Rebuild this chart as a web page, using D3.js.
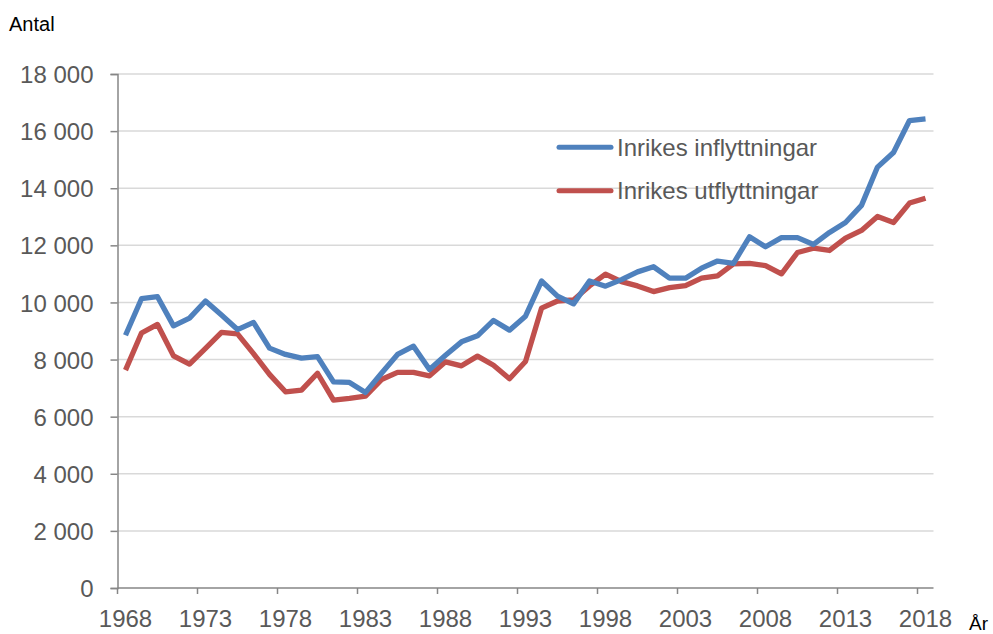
<!DOCTYPE html>
<html>
<head>
<meta charset="utf-8">
<script src="https://cdn.jsdelivr.net/npm/d3@7"></script>
<style>
  body { margin: 0; background: #fff; }
  svg { display: block; font-family: "Liberation Sans", Arial, sans-serif; }
</style>
</head>
<body>
<script>
// categories
const years = d3.range(1968, 2019)
const xTickYears = [1968, 1973, 1978, 1983, 1988, 1993, 1998, 2003, 2008, 2013, 2018]
const yTicks = [0, 2000, 4000, 6000, 8000, 10000, 12000, 14000, 16000, 18000]

// series values
const inflyttningar = [
    8850, 10130, 10200, 9180, 9450, 10050, 9560, 9050, 9300, 8400,
    8180, 8050, 8100, 7220, 7200, 6850, 7520, 8180, 8470, 7650,
    8150, 8620, 8830, 9370, 9030, 9520, 10750, 10220, 9950, 10750,
    10570, 10800, 11070, 11250, 10850, 10850, 11200, 11450, 11370, 12300,
    11950, 12270, 12270, 12030, 12450, 12800, 13400, 14740, 15250, 16370,
    16430
]
const utflyttningar = [
    7630, 8930, 9230, 8130, 7840, 8390, 8950, 8900, 8210, 7480,
    6870, 6930, 7520, 6580, 6640, 6720, 7300, 7550, 7550, 7430,
    7920, 7780, 8120, 7800, 7330, 7930, 9800, 10050, 10090, 10580,
    10990, 10730, 10580, 10380, 10520, 10590, 10850, 10930, 11350, 11370,
    11290, 11000, 11750, 11900, 11820, 12250, 12520, 13010, 12800, 13480,
    13650
]
const seriesNames = ["Inrikes inflyttningar", "Inrikes utflyttningar"]

const COLORS = {
    BLUE: "#4F81BD",
    RED: "#C0504D",
    GRID: "#D9D9D9",
    AXIS: "#868686",
    TICK_TEXT: "#595959",
    TITLE: "#000"
}

const width = 993, height = 634

const x = d3.scaleBand()
    .domain(years)
    .range([117.5, 933.5])
    .padding(0)
const y = d3.scaleLinear()
    .domain([0, 18000])
    .range([588, 74])

// swedish style thousands: "18 000"
const fmt = v => d3.format(",")(v).replace(/,/g, " ")

const svg = d3.select("body").append("svg")
    .attr("width", width)
    .attr("height", height)

// gridlines
svg.append("g")
    .selectAll("line")
    .data(yTicks.filter(d => d > 0))
    .join("line")
    .attr("x1", x.range()[0])
    .attr("x2", x.range()[1])
    .attr("y1", d => y(d))
    .attr("y2", d => y(d))
    .attr("stroke", COLORS.GRID)
    .attr("stroke-width", 1.5)

// y axis
const yAxis = svg.append("g")
    .attr("transform", `translate(${x.range()[0]},0)`)
    .call(d3.axisLeft(y).tickValues(yTicks).tickSize(7).tickPadding(17).tickFormat(fmt))
yAxis.select(".domain").attr("stroke", COLORS.AXIS).attr("stroke-width", 1.5)
yAxis.selectAll(".tick line").attr("stroke", COLORS.AXIS).attr("stroke-width", 1.5)
yAxis.selectAll(".tick text")
    .attr("fill", COLORS.TICK_TEXT)
    .style("font-size", "24px")
    .style("white-space", "pre")
    .attr("dy", "0.36em")

// x axis: ticks at band edges, labels at band centres
const xAxisG = svg.append("g").attr("transform", `translate(0,${y(0)})`)
xAxisG.append("line")
    .attr("x1", x.range()[0])
    .attr("x2", x.range()[1])
    .attr("stroke", COLORS.AXIS)
    .attr("stroke-width", 1.5)
xAxisG.selectAll("line.tick")
    .data(xTickYears)
    .join("line")
    .attr("class", "tick")
    .attr("x1", d => x(d))
    .attr("x2", d => x(d))
    .attr("y1", 0)
    .attr("y2", 6)
    .attr("stroke", COLORS.AXIS)
    .attr("stroke-width", 1.5)
xAxisG.selectAll("text")
    .data(xTickYears)
    .join("text")
    .attr("x", d => x(d) + x.bandwidth() / 2)
    .attr("y", 39)
    .attr("text-anchor", "middle")
    .attr("fill", COLORS.TICK_TEXT)
    .style("font-size", "24px")
    .text(d => d)

// axis titles
svg.append("text")
    .attr("x", 9)
    .attr("y", 31)
    .attr("fill", COLORS.TITLE)
    .style("font-size", "20px")
    .text("Antal")
svg.append("text")
    .attr("x", 969)
    .attr("y", 630)
    .attr("fill", COLORS.TITLE)
    .style("font-size", "19px")
    .text("År")

// lines
const line = d3.line()
    .x((d, i) => x(years[i]) + x.bandwidth() / 2)
    .y(d => y(d))

const series = [
    {name: seriesNames[0], values: inflyttningar, color: COLORS.BLUE},
    {name: seriesNames[1], values: utflyttningar, color: COLORS.RED}
]

svg.append("g")
    .selectAll("path")
    .data(series.slice().reverse())
    .join("path")
    .attr("d", d => line(d.values))
    .attr("fill", "none")
    .attr("stroke", d => d.color)
    .attr("stroke-width", 5.3)
    .attr("stroke-linejoin", "round")

// legend
const legend = svg.append("g")
    .selectAll("g")
    .data(series)
    .join("g")
    .attr("transform", (d, i) => `translate(557,${147.3 + i * 43.5})`)
legend.append("line")
    .attr("x1", 2)
    .attr("x2", 54)
    .attr("stroke", d => d.color)
    .attr("stroke-width", 5)
    .attr("stroke-linecap", "round")
legend.append("text")
    .attr("x", 60)
    .attr("y", 8.5)
    .attr("fill", COLORS.TICK_TEXT)
    .style("font-size", "24px")
    .text(d => d.name)
</script>
</body>
</html>
